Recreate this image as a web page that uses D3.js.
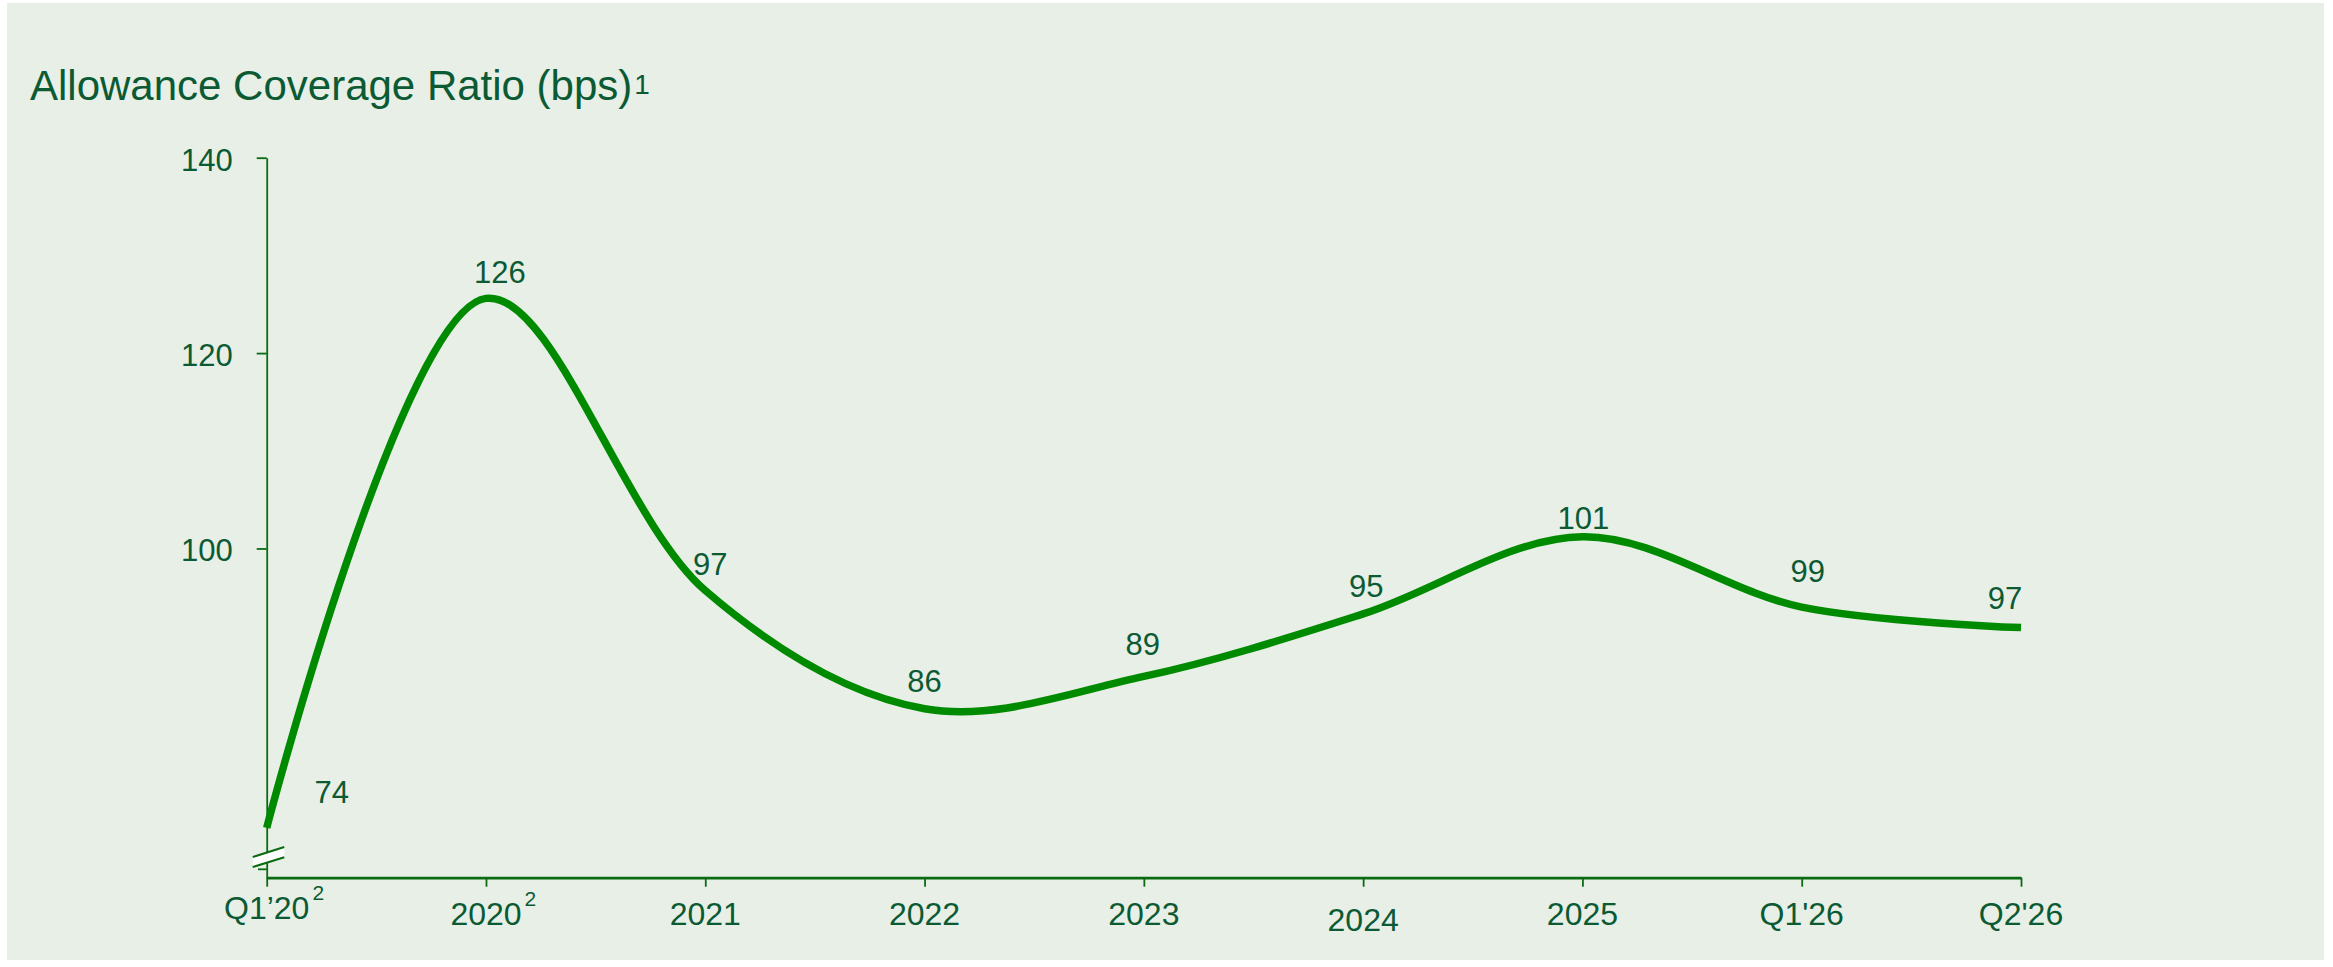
<!DOCTYPE html>
<html>
<head>
<meta charset="utf-8">
<script src="https://cdn.jsdelivr.net/npm/d3@7"></script>
<style>
  body { margin: 0; background: #ffffff; }
  text { font-family: "Liberation Sans", Arial, sans-serif; fill: #0b5a34; }
</style>
</head>
<body>
<div id="chart"></div>
<script>
/* data */
var categories = ["Q1’20", "2020", "2021", "2022", "2023", "2024", "2025", "Q1'26", "Q2'26"];
var footnotes = ["2", "2", "", "", "", "", "", "", ""];
var labelValues = [74, 126, 97, 86, 89, 95, 101, 99, 97];          // printed numbers
var lineValues = [71.4, 125.6, 95.7, 83.6, 86.9, 93.3, 101.2, 94.0, 91.9]; // where the line is drawn
var yTicks = [100, 120, 140];

/* setup */
var iWidth = 2333,
    iHeight = 967,
    axisColor = "#0b6b12",
    lineColor = "#008a00";

// label nudges relative to the line point (layout only)
var labelNudge = [[65, -25], [14, -15], [5, -15], [0, -17], [-1, -21], [3, -17], [1, -8], [6, -25], [-16, -19]];
var tickNudge = { "Q1’20": -6, "2024": 6 };

var svg = d3.select("#chart").append("svg")
    .attr("width", iWidth)
    .attr("height", iHeight);

svg.append("rect")
    .attr("x", 7).attr("y", 3)
    .attr("width", 2317).attr("height", 957)
    .attr("fill", "#e7efe6");

var title = svg.append("text")
    .attr("x", 30).attr("y", 100)
    .style("font-size", "42px")
    .text("Allowance Coverage Ratio (bps)");
title.append("tspan")
    .attr("dx", 2)
    .attr("dy", -6)
    .style("font-size", "28px")
    .text("1");

var x = d3.scalePoint().domain(categories).range([266.7, 2021]);
var y = d3.scaleLinear().domain([66.3, 140]).range([877.7, 157.7]);

/* y axis */
var gy = svg.append("g")
    .attr("transform", "translate(266.7,0)")
    .call(d3.axisLeft(y).tickValues(yTicks).tickSize(10).tickSizeOuter(0).tickPadding(24));
gy.select(".domain").attr("stroke", axisColor).attr("stroke-width", 1.8);
gy.selectAll(".tick line").attr("stroke", axisColor).attr("stroke-width", 1.8);
gy.selectAll(".tick text")
    .attr("dy", "0.4em")
    .style("font-size", "31px")
    .style("font-family", "'Liberation Sans', Arial, sans-serif")
    .attr("fill", "#0b5a34");

/* x axis */
var gx = svg.append("g")
    .attr("transform", "translate(0,877.7)")
    .call(d3.axisBottom(x).tickSize(9).tickSizeOuter(0).tickFormat(""));
gx.select(".domain").attr("stroke", axisColor).attr("stroke-width", 2.8);
gx.selectAll(".tick line").attr("stroke", axisColor).attr("stroke-width", 1.8);

categories.forEach(function (c, i) {
    var by = 925 + (tickNudge[c] || 0);
    var t = svg.append("text")
        .attr("x", x(c)).attr("y", by)
        .attr("text-anchor", "middle")
        .style("font-size", "32px")
        .text(c);
    if (footnotes[i]) {
        var w = t.node().getComputedTextLength();
        svg.append("text")
            .attr("x", x(c) + w / 2 + 3).attr("y", by - 19)
            .style("font-size", "21px")
            .text(footnotes[i]);
    }
});

/* axis break */
var brk = svg.append("g");
brk.append("path")
    .attr("d", "M252.7,857L284.3,847L284.3,857.3L252.7,867Z")
    .attr("fill", "#ffffff");
brk.append("path")
    .attr("d", "M252.7,857L284.3,847M252.7,867L284.3,857.3")
    .attr("stroke", axisColor).attr("stroke-width", 2);
brk.append("line")
    .attr("x1", 258).attr("x2", 266.7)
    .attr("y1", 869.3).attr("y2", 869.3)
    .attr("stroke", axisColor).attr("stroke-width", 1.8);

/* line */
var line = d3.line()
    .x(function (d, i) { return x(categories[i]); })
    .y(function (d) { return y(d); })
    .curve(d3.curveCatmullRom.alpha(0.5));

svg.append("path")
    .datum(lineValues)
    .attr("d", line)
    .attr("fill", "none")
    .attr("stroke", lineColor)
    .attr("stroke-width", 7.5);

/* value labels */
svg.selectAll(".vlabel")
    .data(labelValues)
  .enter().append("text")
    .attr("class", "vlabel")
    .attr("x", function (d, i) { return x(categories[i]) + labelNudge[i][0]; })
    .attr("y", function (d, i) { return y(lineValues[i]) + labelNudge[i][1]; })
    .attr("text-anchor", "middle")
    .style("font-size", "31px")
    .text(function (d) { return d; });
</script>
</body>
</html>
